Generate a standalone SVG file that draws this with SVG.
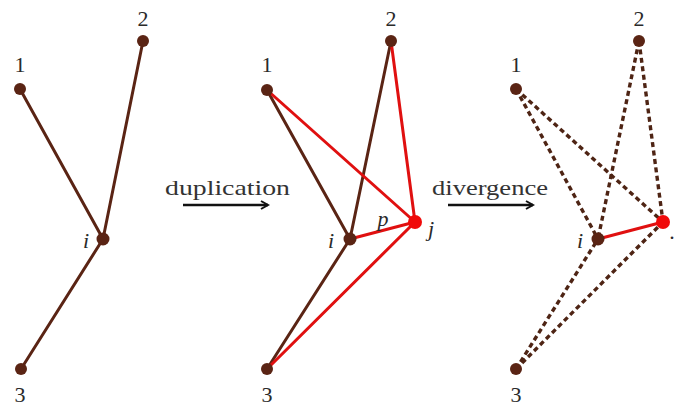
<svg xmlns="http://www.w3.org/2000/svg" width="676" height="406" viewBox="0 0 676 406">
<style>
.lbl{font-family:'Liberation Serif',serif;font-size:22px;fill:#2a2a2a;text-anchor:middle}
.it{font-family:'Liberation Serif',serif;font-style:italic;font-size:22px;fill:#2a2a2a;text-anchor:middle}
.word{font-family:'Liberation Serif',serif;font-size:22px;fill:#333}
.br{stroke:#5a2414;stroke-width:3;fill:none;stroke-linecap:round}
.rd{stroke:#e01010;stroke-width:3;fill:none;stroke-linecap:round}
.ds{stroke:#4e2414;stroke-width:3.4;fill:none;stroke-dasharray:5 3.5}
.nb{fill:#5a2414}
.nr{fill:#f00a0a}
.ar{stroke:#111;stroke-width:2.5;fill:none}
</style>
<defs>
<marker id="ah" markerWidth="10" markerHeight="10" refX="8" refY="5" orient="auto" markerUnits="userSpaceOnUse">
<path d="M1,1 L8,5 L1,9" fill="none" stroke="#111" stroke-width="2"/>
</marker>
</defs>
<g id="connectors">
<line class="br" x1="20" y1="89" x2="103" y2="239"/>
<line class="br" x1="143" y1="41" x2="103" y2="239"/>
<line class="br" x1="21" y1="369" x2="103" y2="239"/>
<line class="br" x1="267" y1="90" x2="350" y2="239"/>
<line class="br" x1="391" y1="41" x2="350" y2="239"/>
<line class="br" x1="267" y1="369" x2="350" y2="239"/>
<line class="rd" x1="267" y1="90" x2="415" y2="222"/>
<line class="rd" x1="391" y1="41" x2="415" y2="222"/>
<line class="rd" x1="267" y1="369" x2="415" y2="222"/>
<line class="rd" x1="350" y1="239" x2="415" y2="222"/>
<line class="ds" x1="516" y1="89" x2="598" y2="239"/>
<line class="ds" x1="516" y1="89" x2="663" y2="222"/>
<line class="ds" x1="639" y1="41" x2="598" y2="239"/>
<line class="ds" x1="639" y1="41" x2="663" y2="222"/>
<line class="ds" x1="516" y1="369" x2="598" y2="239"/>
<line class="ds" x1="516" y1="369" x2="663" y2="222"/>
<line class="rd" x1="598" y1="239" x2="663" y2="222"/>
<line class="ar" x1="183" y1="205" x2="268" y2="205" marker-end="url(#ah)"/>
<line class="ar" x1="448" y1="205" x2="533" y2="205" marker-end="url(#ah)"/>
</g>
<g id="p1n1"><circle class="nb" cx="20" cy="89" r="6"/><text class="lbl" x="20" y="72">1</text></g>
<g id="p1n2"><circle class="nb" cx="143" cy="41" r="6"/><text class="lbl" x="143" y="26">2</text></g>
<g id="p1ni"><circle class="nb" cx="103" cy="239" r="6.5"/><text class="it" x="86" y="248">i</text></g>
<g id="p1n3"><circle class="nb" cx="21" cy="369" r="6"/><text class="lbl" x="20" y="402">3</text></g>
<g id="p2n1"><circle class="nb" cx="267" cy="90" r="6"/><text class="lbl" x="267" y="72">1</text></g>
<g id="p2n2"><circle class="nb" cx="391" cy="41" r="6"/><text class="lbl" x="391" y="26">2</text></g>
<g id="p2ni"><circle class="nb" cx="350" cy="239" r="6.5"/><text class="it" x="331" y="248">i</text></g>
<g id="p2nj"><circle class="nr" cx="415" cy="222" r="7"/><text class="it" x="431" y="236">j</text></g>
<g id="p2n3"><circle class="nb" cx="267" cy="369" r="6"/><text class="lbl" x="267" y="402">3</text></g>
<g id="p2p"><text class="it" x="383" y="226">p</text></g>
<g id="p3n1"><circle class="nb" cx="516" cy="89" r="6"/><text class="lbl" x="516" y="72">1</text></g>
<g id="p3n2"><circle class="nb" cx="639" cy="41" r="6"/><text class="lbl" x="639" y="26">2</text></g>
<g id="p3ni"><circle class="nb" cx="598" cy="239" r="6.5"/><text class="it" x="580" y="248">i</text></g>
<g id="p3nj"><circle class="nr" cx="663" cy="222" r="7"/><text class="lbl" x="672" y="239">.</text></g>
<g id="p3n3"><circle class="nb" cx="516" cy="369" r="6"/><text class="lbl" x="516" y="402">3</text></g>
<g id="lab1"><text class="word" x="165" y="195" textLength="125" lengthAdjust="spacingAndGlyphs">duplication</text></g>
<g id="lab2"><text class="word" x="432" y="195" textLength="116" lengthAdjust="spacingAndGlyphs">divergence</text></g>
</svg>
